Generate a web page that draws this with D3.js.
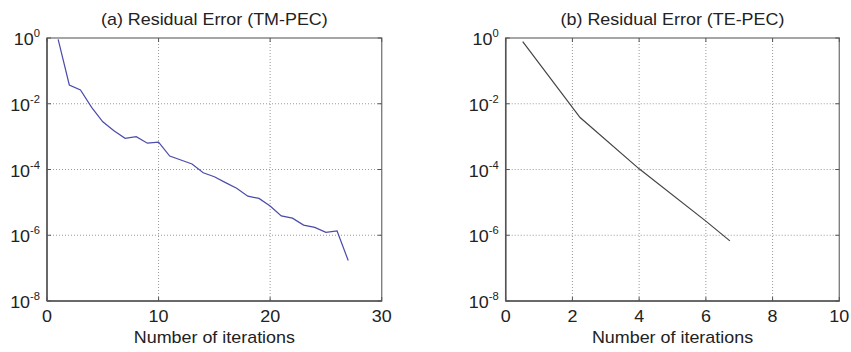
<!DOCTYPE html>
<html><head><meta charset="utf-8">
<script src="https://cdn.jsdelivr.net/npm/d3@7"></script>
<style>body{margin:0;background:#fff}svg{display:block}text{font-family:Arial,"Liberation Sans",sans-serif}</style>
</head><body>
<svg id="c" width="851" height="352"></svg>
<script>
// Panel (a) TM-PEC
const itersA = [1,2,3,4,5,6,7,8,9,10,11,12,13,14,15,16,17,18,19,20,21,22,23,24,25,26,27];
const logErrA = [-0.04,-1.43,-1.58,-2.11,-2.55,-2.82,-3.05,-3.0,-3.2,-3.17,-3.59,-3.71,-3.83,-4.10,-4.22,-4.40,-4.57,-4.81,-4.88,-5.11,-5.41,-5.48,-5.69,-5.76,-5.91,-5.87,-6.77];
// Panel (b) TE-PEC
const itersB = [0.51,2.23,4.0,6.0,6.72];
const logErrB = [-0.11,-2.42,-3.98,-5.57,-6.17];
const yTickExp = [0,-2,-4,-6,-8];
const xTicksA = [0,10,20,30];
const xTicksB = [0,2,4,6,8,10];
const titles = ["(a) Residual Error (TM-PEC)","(b) Residual Error (TE-PEC)"];
const xLabel = "Number of iterations";

const svg = d3.select("#c");
const SX = 1.12, FS = 16;
function txt(g, x, y, anchor){
  return g.append("g").attr("transform",`translate(${x},${y}) scale(${SX},1)`)
    .append("text").attr("text-anchor",anchor).attr("font-size",FS).attr("fill","#222");
}
function panel(cfg){
  const g = svg.append("g");
  const x = d3.scaleLinear().domain(cfg.xdom).range([cfg.x0,cfg.x1]);
  const y = d3.scaleLog().domain([1e-8,1]).range([301,38]);
  const X0=cfg.x0, X1=cfg.x1, Y0=38, Y1=301;
  cfg.xticks.forEach(t=>{
    if(t>cfg.xdom[0] && t<cfg.xdom[1]) g.append("line").attr("x1",x(t)).attr("x2",x(t)).attr("y1",Y0).attr("y2",Y1)
      .attr("stroke","#9a9a9a").attr("stroke-width",1).attr("stroke-dasharray","1,2");
  });
  yTickExp.forEach(e=>{
    const v=Math.pow(10,e);
    if(e<0 && e>-8) g.append("line").attr("x1",X0).attr("x2",X1).attr("y1",y(v)).attr("y2",y(v))
      .attr("stroke","#9a9a9a").attr("stroke-width",1).attr("stroke-dasharray","1,2");
  });
  const data = cfg.xs.map((d,i)=>({x:d,y:Math.pow(10,cfg.ls[i])}));
  g.append("path").datum(data).attr("fill","none").attr("stroke",cfg.color).attr("stroke-width",1.2)
    .attr("d",d3.line().x(d=>x(d.x)).y(d=>y(d.y)));
  g.append("rect").attr("x",X0).attr("y",Y0).attr("width",X1-X0).attr("height",Y1-Y0)
    .attr("fill","none").attr("stroke","#808080").attr("stroke-width",1.4);
  g.append("line").attr("x1",X0).attr("x2",X0).attr("y1",Y0).attr("y2",Y1).attr("stroke","#555").attr("stroke-width",1.5);
  g.append("line").attr("x1",X0).attr("x2",X1).attr("y1",Y1).attr("y2",Y1).attr("stroke","#555").attr("stroke-width",1.5);
  cfg.xticks.forEach(t=>{
    g.append("line").attr("x1",x(t)).attr("x2",x(t)).attr("y1",Y1).attr("y2",Y1-4).attr("stroke","#555");
    g.append("line").attr("x1",x(t)).attr("x2",x(t)).attr("y1",Y0).attr("y2",Y0+4).attr("stroke","#555");
    txt(g, x(t), 322, "middle").text(t);
  });
  yTickExp.forEach(e=>{
    const v=Math.pow(10,e), yy=y(v);
    g.append("line").attr("x1",X0).attr("x2",X0+4).attr("y1",yy).attr("y2",yy).attr("stroke","#555");
    g.append("line").attr("x1",X1).attr("x2",X1-4).attr("y1",yy).attr("y2",yy).attr("stroke","#555");
    const t=txt(g, X0-7, yy+7, "end");
    t.append("tspan").text("10");
    t.append("tspan").attr("dy",-8).attr("font-size",10).text(e);
  });
  txt(g,(X0+X1)/2,25,"middle").text(cfg.title);
  txt(g,(X0+X1)/2,343,"middle").text(xLabel);
}
panel({x0:47,x1:381.7,xdom:[0,30],xticks:xTicksA,xs:itersA,ls:logErrA,color:"#4b4bab",title:titles[0]});
panel({x0:505.7,x1:839.3,xdom:[0,10],xticks:xTicksB,xs:itersB,ls:logErrB,color:"#444",title:titles[1]});
</script>
</body></html>
